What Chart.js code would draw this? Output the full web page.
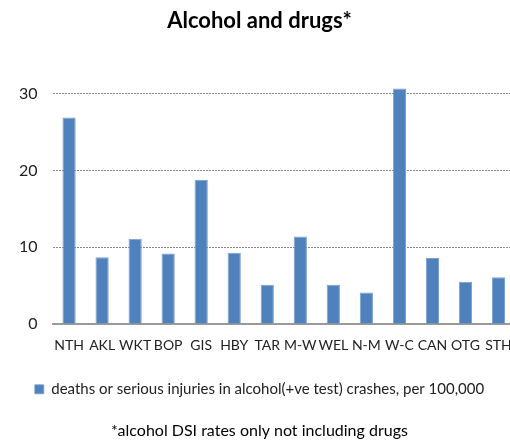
<!DOCTYPE html>
<html>
<head>
<meta charset="utf-8">
<script src="https://cdn.jsdelivr.net/npm/chart.js@4"></script>
<style>
  body { margin: 0; background: #fff; overflow: hidden; }
  canvas { display: block; }
</style>
</head>
<body>
<canvas id="myChart" width="515" height="440"></canvas>
<script>
var regions = ['NTH', 'AKL', 'WKT', 'BOP', 'GIS', 'HBY', 'TAR', 'M-W', 'WEL', 'N-M', 'W-C', 'CAN', 'OTG', 'STH'];
var dsiRates = [26.9, 8.7, 11.1, 9.2, 18.8, 9.3, 5.1, 11.4, 5.1, 4.1, 30.7, 8.6, 5.5, 6.1];
var seriesName = 'deaths or serious injuries in alcohol(+ve test) crashes, per 100,000';
var yTicks = [0, 10, 20, 30];

Chart.defaults.font.family = 'Lato, "Open Sans", sans-serif';
Chart.defaults.color = '#222';

var ctx = document.getElementById('myChart').getContext('2d');
var myChart = new Chart(ctx, {
    type: 'bar',
    data: {
        labels: regions,
        datasets: [{
            label: seriesName,
            data: dsiRates,
            backgroundColor: '#4f81bd',
            borderColor: '#7aa0cf',
            borderWidth: {top: 1, left: 1, right: 1, bottom: 0},
            barPercentage: 0.4,
            categoryPercentage: 1
        }]
    },
    options: {
        responsive: false,
        animation: false,
        layout: { padding: { left: 4, right: 0, top: 0, bottom: 0 } },
        plugins: {
            title: {
                display: true,
                text: 'Alcohol and drugs*',
                font: { size: 22, weight: 'bold' },
                color: '#000',
                padding: { top: 8, bottom: 21 }
            },
            subtitle: {
                display: true,
                position: 'bottom',
                text: '*alcohol DSI rates only not including drugs',
                font: { size: 16 },
                color: '#000',
                padding: { top: 14, bottom: 0 }
            },
            legend: {
                position: 'bottom',
                labels: {
                    boxWidth: 9,
                    boxHeight: 9,
                    font: { size: 15 },
                    color: '#222',
                    padding: 15
                }
            },
            tooltip: { enabled: false }
        },
        scales: {
            x: {
                grid: { display: false, drawTicks: false },
                border: { display: true, color: '#999', width: 2 },
                ticks: { font: { size: 14 }, padding: 13, maxRotation: 0, autoSkip: false },
                afterFit: function (axis) {
                    // keep the plot edge-to-edge, no extra room for the end labels
                    axis.paddingLeft = 0;
                    axis.paddingRight = 0;
                }
            },
            y: {
                min: 0,
                max: 35,
                afterBuildTicks: function (axis) {
                    axis.ticks = yTicks.map(function (v) { return { value: v }; });
                },
                grid: { color: '#888', lineWidth: 1, drawTicks: false },
                border: { display: false, dash: [2, 1] },
                ticks: { font: { size: 16 }, padding: 15 }
            }
        }
    }
});
</script>
</body>
</html>
